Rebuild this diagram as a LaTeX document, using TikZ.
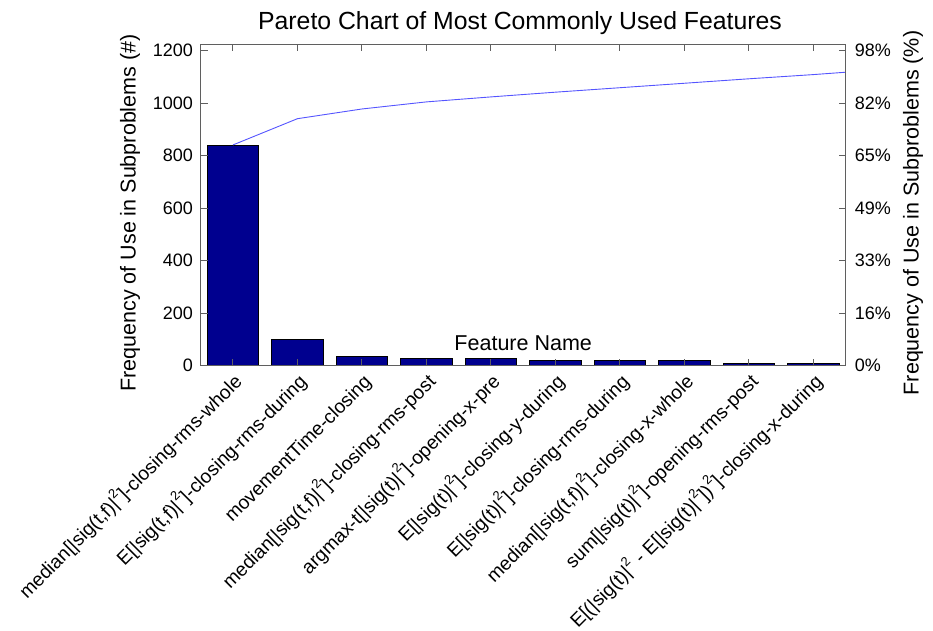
\documentclass[tikz,border=0pt]{standalone}
\usepackage{fontspec}
\setmainfont{Liberation Sans}
\usetikzlibrary{positioning}
\definecolor{barblue}{RGB}{0,0,143}
\definecolor{cumblue}{RGB}{85,85,255}
\definecolor{axgray}{RGB}{95,95,95}
\tikzset{
	ticklbl/.style={font=\fontsize{18}{20}\selectfont, inner sep=0pt},
	axlbl/.style={font=\fontsize{21.5}{24}\selectfont, inner sep=0pt},
	featlbl/.style={font=\fontsize{19.2}{21}\selectfont, inner sep=0pt, xshift=10.5pt, yshift=-17.3pt, rotate=45, anchor=base east},
	bar/.style={fill=barblue, draw=black, line width=0.8pt}
}
\newcommand{\psq}{\kern0.3pt\raisebox{0.5em}{\fontsize{13}{14}\selectfont 2}\kern0.3pt}

\begin{document}
\begin{tikzpicture}[x=1pt, y=1pt]
	\useasboundingbox (0,0) rectangle (933,630);
	\node[axlbl, font=\fontsize{24.8}{26}\selectfont, anchor=base] (title) at (520,600) {Pareto Chart of Most Commonly Used Features};
	\node[axlbl, rotate=90, anchor=base] (ylabl) at (135.5,417) {Frequency of Use in Subproblems (\#)};
	\node[axlbl, rotate=90, anchor=base] (ylabr) at (918.5,417) {Frequency of Use in Subproblems (\%)};

	\begin{scope}[shift={(168.45,264.3)}, x=64.5pt, y=0.2625pt]
		% bars
		\draw[bar] (0.6,0) rectangle (1.4,841);
		\draw[bar] (1.6,0) rectangle (2.4,99);
		\draw[bar] (2.6,0) rectangle (3.4,37);
		\draw[bar] (3.6,0) rectangle (4.4,26);
		\draw[bar] (4.6,0) rectangle (5.4,26);
		\draw[bar] (5.6,0) rectangle (6.4,21);
		\draw[bar] (6.6,0) rectangle (7.4,21);
		\draw[bar] (7.6,0) rectangle (8.4,21);
		\draw[bar] (8.6,0) rectangle (9.4,10);
		\draw[bar] (9.6,0) rectangle (10.4,10);

		% cumulative share
		\draw[cumblue, line width=0.9pt] (1,841) -- (2,941) -- (3,978) -- (4,1005) -- (5,1024) -- (6,1042)
			-- (7,1059) -- (8,1076) -- (9,1093) -- (10,1109) -- (10.5,1118);

		% axes box and ticks
		\draw[axgray, line width=1.2pt] (0.5,0) rectangle (10.5,1224);
		\foreach \v/\p in {0/0, 200/16, 400/33, 600/49, 800/65, 1000/82, 1200/98} {
			\draw[axgray, line width=1pt] (0.5,\v) -- ++(7pt,0);
			\draw[axgray, line width=1pt] (10.5,\v) -- ++(-7pt,0);
			\node[ticklbl, anchor=east, xshift=-7.5pt] (yl\v) at (0.5,\v) {\v};
			\node[ticklbl, anchor=west, xshift=9pt] (yr\v) at (10.5,\v) {\p\%};
		}
		\foreach \i in {1,...,10} {
			\draw[axgray, line width=1pt] (\i,0) -- ++(0,7pt);
			\draw[axgray, line width=1pt] (\i,1224) -- ++(0,-7pt);
		}

		\node[axlbl, anchor=base] (xlab) at (5.5,0) [yshift=15.5pt] {Feature Name};

		% feature names
		\node[featlbl] (f1) at (1,0) {median[|sig(t,f)|\psq]-closing-rms-whole};
		\node[featlbl] (f2) at (2,0) {E[|sig(t,f)|\psq]-closing-rms-during};
		\node[featlbl] (f3) at (3,0) {movementTime-closing};
		\node[featlbl] (f4) at (4,0) {median[|sig(t,f)|\psq]-closing-rms-post};
		\node[featlbl] (f5) at (5,0) {argmax-t[|sig(t)|\psq]-opening-x-pre};
		\node[featlbl] (f6) at (6,0) {E[|sig(t)|\psq]-closing-y-during};
		\node[featlbl] (f7) at (7,0) {E[|sig(t)|\psq]-closing-rms-during};
		\node[featlbl] (f8) at (8,0) {median[|sig(t,f)|\psq]-closing-x-whole};
		\node[featlbl] (f9) at (9,0) {sum[|sig(t)|\psq]-opening-rms-post};
		\node[featlbl] (f10) at (10,0) {E[(|sig(t)|\psq{} - E[|sig(t)|\psq])\psq]-closing-x-during};
	\end{scope}
\end{tikzpicture}
\end{document}
